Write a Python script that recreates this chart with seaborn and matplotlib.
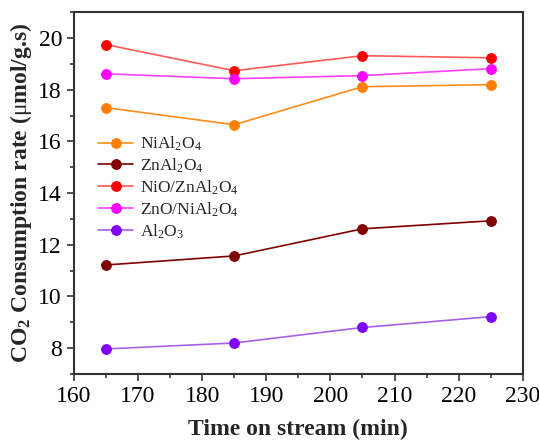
import pandas as pd
import matplotlib
matplotlib.use("Agg")
import matplotlib.pyplot as plt
import seaborn as sns
from matplotlib.ticker import MultipleLocator

# dane
time = [165, 185, 205, 225]
nial2o4 = [17.31, 16.65, 18.12, 18.20]
znal2o4 = [11.22, 11.57, 12.62, 12.93]
nio_znal2o4 = [19.75, 18.74, 19.32, 19.24]
zno_nial2o4 = [18.62, 18.43, 18.55, 18.82]
al2o3 = [7.97, 8.20, 8.80, 9.22]

labels = [r"NiAl$_2$O$_4$", r"ZnAl$_2$O$_4$", r"NiO/ZnAl$_2$O$_4$",
          r"ZnO/NiAl$_2$O$_4$", r"Al$_2$O$_3$"]
series = [nial2o4, znal2o4, nio_znal2o4, zno_nial2o4, al2o3]
marker_colors = ["#ff8000", "#800000", "#ff0000", "#ff00ff", "#8000ff"]
line_colors = ["#ff8c1a", "#800000", "#ff5a5a", "#ff40ff", "#a860e8"]

sns.set_theme(style="ticks")
plt.rcParams["font.family"] = ["Liberation Serif", "DejaVu Serif"]
plt.rcParams["mathtext.fontset"] = "custom"
plt.rcParams["mathtext.rm"] = "Liberation Serif"
plt.rcParams["mathtext.it"] = "Liberation Serif:italic"
plt.rcParams["mathtext.bf"] = "Liberation Serif:bold"

fig = plt.figure(figsize=(5.39, 4.40), dpi=100)
ax = fig.add_axes([0.137, 0.15, 0.833, 0.822])

for lab, vals, mc, lc in zip(labels, series, marker_colors, line_colors):
    df = pd.DataFrame({"t": time, "v": vals})
    sns.lineplot(data=df, x="t", y="v", ax=ax, color=lc, marker="o",
                 markersize=7, markerfacecolor=mc, markeredgecolor=mc,
                 linewidth=1.2, label=lab)

ax.set_xlim(160, 230)
ax.set_ylim(7, 21)
ax.xaxis.set_major_locator(MultipleLocator(10))
ax.xaxis.set_minor_locator(MultipleLocator(5))
ax.yaxis.set_major_locator(MultipleLocator(2))
ax.yaxis.set_minor_locator(MultipleLocator(1))
ax.tick_params(which="major", direction="out", length=5, width=1.2,
               labelsize=17, colors="#333333", labelcolor="black")
ax.tick_params(which="minor", direction="out", length=3, width=1.2,
               colors="#333333")
for s in ax.spines.values():
    s.set_linewidth(1.5)
    s.set_color("#333333")

ax.set_xlabel("Time on stream (min)", fontsize=17, fontweight="bold", labelpad=9)
ax.set_ylabel(r"CO$_\mathbf{2}$ Consumption rate ($\mathrm{\mu}$mol/g.s)",
              fontsize=17, fontweight="bold", labelpad=3)

ax.legend(loc="upper left", bbox_to_anchor=(0.02, 0.705), frameon=False,
          fontsize=12.5, handlelength=2.0, handletextpad=0.4, labelspacing=0.2)

fig.savefig("out.png", dpi=100)
